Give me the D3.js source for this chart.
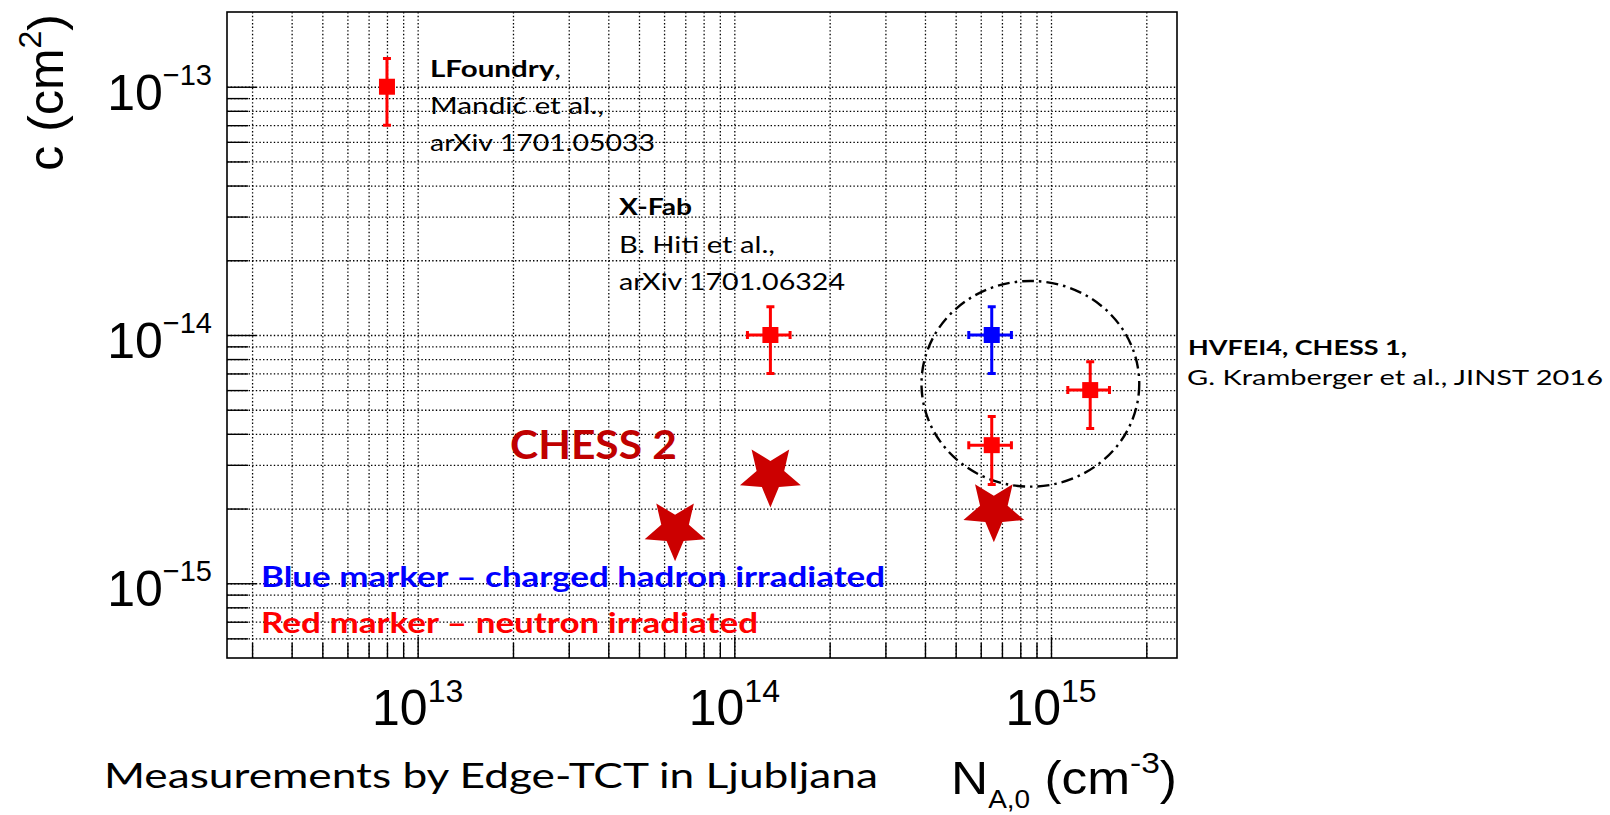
<!DOCTYPE html>
<html>
<head>
<meta charset="utf-8">
<script src="https://cdn.jsdelivr.net/npm/d3@7"></script>
<style>
  html, body { margin: 0; padding: 0; background: #ffffff; }
  svg { display: block; }
</style>
</head>
<body>
<svg id="chart" width="1610" height="815"></svg>
<script>
// ---------------------------------------------------------------
// Effective acceptor removal constant c versus initial acceptor
// concentration N_A,0, measured by Edge-TCT.
// ---------------------------------------------------------------

// Axis ranges and labelled decades
const xDomain = [2.5e12, 2.5e15];
const yDomain = [5e-16, 2e-13];
const xDecades = [13, 14, 15];
const yDecades = [-13, -14, -15];

// Square markers with asymmetric error bars
const pointNames = ["LFoundry", "X-Fab", "HVFEI4 (p)", "CHESS 1", "HVFEI4"];
const pointNA = [8e12, 1.3e14, 6.5e14, 1.33e15, 6.5e14];
const pointNALow = [8e12, 1.1e14, 5.5e14, 1.13e15, 5.5e14];
const pointNAHigh = [8e12, 1.5e14, 7.5e14, 1.53e15, 7.5e14];
const pointC = [1e-13, 1e-14, 1e-14, 6e-15, 3.6e-15];
const pointCLow = [7e-14, 7e-15, 7e-15, 4.2e-15, 2.5e-15];
const pointCHigh = [1.3e-13, 1.3e-14, 1.3e-14, 7.8e-15, 4.7e-15];
const pointIrradiation = ["neutron", "neutron", "hadron", "neutron", "neutron"];

// CHESS 2 samples (star markers)
const chess2NA = [6.5e13, 1.3e14, 6.6e14];
const chess2C = [1.65e-15, 2.72e-15, 1.97e-15];

// Dash-dotted ellipse grouping the HVFEI4 / CHESS 1 samples (data extent)
const groupNA = [3.9e14, 1.9e15];
const groupC = [2.45e-15, 1.65e-14];

const irradiationColor = { neutron: "#ff0000", hadron: "#0000ff" };
const starColor = "#cc0000";

const ROOT_FONT = "'Liberation Sans', Arial, Helvetica, sans-serif";
const NOTE_FONT = "Lato, 'Open Sans', 'Noto Sans', sans-serif";

const svg = d3.select("#chart");
const frame = { left: 227, right: 1177, top: 12, bottom: 658 };

const x = d3.scaleLog().domain(xDomain).range([frame.left, frame.right]);
const y = d3.scaleLog().domain(yDomain).range([frame.bottom, frame.top]);

// All 1..9 x 10^n values in a domain, flagged major for powers of ten
function logTickValues(domain) {
  const out = [];
  const lo = Math.floor(Math.log10(domain[0]));
  const hi = Math.ceil(Math.log10(domain[1]));
  for (let e = lo; e <= hi; e++) {
    for (let m = 1; m <= 9; m++) {
      const v = +(m + "e" + e);
      if (v > domain[0] * 1.0001 && v < domain[1] * 0.9999) out.push({ v, major: m === 1 });
    }
  }
  return out;
}
const xTicks = logTickValues(xDomain);
const yTicks = logTickValues(yDomain);

// ---- dotted grid at every tick ----
const gridStyle = g => g
  .call(s => s.select(".domain").remove())
  .call(s => s.selectAll(".tick line")
    .attr("stroke", "#000")
    .attr("stroke-width", 1.3)
    .attr("stroke-dasharray", "1.4,2.2"));

svg.append("g")
  .attr("transform", `translate(0,${frame.bottom})`)
  .call(d3.axisBottom(x).tickValues(xTicks.map(d => d.v))
    .tickSize(-(frame.bottom - frame.top)).tickFormat(""))
  .call(gridStyle);

svg.append("g")
  .attr("transform", `translate(${frame.left},0)`)
  .call(d3.axisLeft(y).tickValues(yTicks.map(d => d.v))
    .tickSize(-(frame.right - frame.left)).tickFormat(""))
  .call(gridStyle);

// ---- inward ticks on the bottom and left axes ----
const tickStyle = g => g
  .call(s => s.select(".domain").remove())
  .call(s => s.selectAll(".tick line").attr("stroke", "#000").attr("stroke-width", 1.4));

svg.append("g")
  .attr("transform", `translate(0,${frame.bottom})`)
  .call(d3.axisBottom(x).tickValues(xTicks.filter(d => !d.major).map(d => d.v))
    .tickSize(-15).tickFormat(""))
  .call(tickStyle);
svg.append("g")
  .attr("transform", `translate(0,${frame.bottom})`)
  .call(d3.axisBottom(x).tickValues(xTicks.filter(d => d.major).map(d => d.v))
    .tickSize(-21).tickFormat(""))
  .call(tickStyle);
svg.append("g")
  .attr("transform", `translate(${frame.left},0)`)
  .call(d3.axisLeft(y).tickValues(yTicks.filter(d => !d.major).map(d => d.v))
    .tickSize(-21).tickFormat(""))
  .call(tickStyle);
svg.append("g")
  .attr("transform", `translate(${frame.left},0)`)
  .call(d3.axisLeft(y).tickValues(yTicks.filter(d => d.major).map(d => d.v))
    .tickSize(-29).tickFormat(""))
  .call(tickStyle);

// ---- frame ----
svg.append("rect")
  .attr("x", frame.left).attr("y", frame.top)
  .attr("width", frame.right - frame.left).attr("height", frame.bottom - frame.top)
  .attr("fill", "none").attr("stroke", "#000").attr("stroke-width", 1.6);

// ---- decade labels 10^n ----
svg.append("g").selectAll("text").data(xDecades).join("text")
  .attr("x", d => x(+("1e" + d)))
  .attr("y", 725)
  .attr("text-anchor", "middle")
  .attr("font-family", ROOT_FONT)
  .attr("font-size", 50)
  .attr("fill", "#000")
  .call(t => {
    t.append("tspan").text("10");
    t.append("tspan").attr("dy", -23).attr("font-size", 32).text(d => d);
  });

svg.append("g").selectAll("text").data(yDecades).join("text")
  .attr("x", 212)
  .attr("y", d => y(+("1e" + d)) + 23)
  .attr("text-anchor", "end")
  .attr("font-family", ROOT_FONT)
  .attr("font-size", 50)
  .attr("fill", "#000")
  .call(t => {
    t.append("tspan").text("10");
    t.append("tspan").attr("dy", -25).attr("font-size", 29).text(d => "\u2212" + Math.abs(d));
  });

// ---- axis titles ----
const xTitle = svg.append("text")
  .attr("x", frame.right).attr("y", 794)
  .attr("text-anchor", "end")
  .attr("font-family", ROOT_FONT)
  .attr("font-size", 46)
  .attr("fill", "#000")
  .attr("textLength", 226)
  .attr("lengthAdjust", "spacingAndGlyphs");
xTitle.append("tspan").text("N");
xTitle.append("tspan").attr("font-size", 25).attr("dy", 14).text("A,0");
xTitle.append("tspan").attr("dy", -14).text("\u00a0(cm");
xTitle.append("tspan").attr("font-size", 30).attr("dy", -21).text("-3");
xTitle.append("tspan").attr("dy", 21).text(")");

const yTitle = svg.append("text")
  .attr("transform", `translate(63,${frame.top + 2}) rotate(-90)`)
  .attr("text-anchor", "end")
  .attr("font-family", ROOT_FONT)
  .attr("font-size", 50)
  .attr("fill", "#000");
yTitle.append("tspan").text("c (cm");
yTitle.append("tspan").attr("font-size", 32).attr("dy", -22).text("2");
yTitle.append("tspan").attr("dy", 22).text(")");

// ---- grouping ellipse ----
{
  const x0 = x(groupNA[0]), x1 = x(groupNA[1]);
  const y0 = y(groupC[1]), y1 = y(groupC[0]);
  svg.append("ellipse")
    .attr("cx", (x0 + x1) / 2).attr("cy", (y0 + y1) / 2)
    .attr("rx", (x1 - x0) / 2).attr("ry", (y1 - y0) / 2)
    .attr("fill", "none").attr("stroke", "#000")
    .attr("stroke-width", 2.4)
    .attr("stroke-dasharray", "12,5,2.5,5");
}

// ---- error bars and square markers ----
const points = pointNA.map((v, i) => ({
  name: pointNames[i],
  x: v, xl: pointNALow[i], xh: pointNAHigh[i],
  y: pointC[i], yl: pointCLow[i], yh: pointCHigh[i],
  color: irradiationColor[pointIrradiation[i]]
}));

const cap = 4;
const pg = svg.append("g").selectAll("g").data(points).join("g")
  .attr("stroke", d => d.color).attr("fill", d => d.color);

pg.append("line")
  .attr("x1", d => x(d.x)).attr("x2", d => x(d.x))
  .attr("y1", d => y(d.yh)).attr("y2", d => y(d.yl))
  .attr("stroke-width", 3);
pg.append("path")
  .attr("d", d => `M${x(d.x) - cap},${y(d.yh)}H${x(d.x) + cap}M${x(d.x) - cap},${y(d.yl)}H${x(d.x) + cap}`)
  .attr("stroke-width", 3);
pg.filter(d => d.xh > d.xl).append("line")
  .attr("x1", d => x(d.xl)).attr("x2", d => x(d.xh))
  .attr("y1", d => y(d.y)).attr("y2", d => y(d.y))
  .attr("stroke-width", 3);
pg.filter(d => d.xh > d.xl).append("path")
  .attr("d", d => `M${x(d.xl)},${y(d.y) - cap}V${y(d.y) + cap}M${x(d.xh)},${y(d.y) - cap}V${y(d.y) + cap}`)
  .attr("stroke-width", 3);
pg.append("rect")
  .attr("x", d => x(d.x) - 8).attr("y", d => y(d.y) - 8)
  .attr("width", 16).attr("height", 16)
  .attr("stroke", "none");

// ---- CHESS 2 stars (five-pointed, tip down) ----
function starPath(R, r) {
  const pts = d3.range(10).map(i => {
    const a = Math.PI / 2 + i * Math.PI / 5;
    const rad = i % 2 === 0 ? R : r;
    return [rad * Math.cos(a), rad * Math.sin(a)];
  });
  return "M" + pts.map(p => p[0].toFixed(2) + "," + p[1].toFixed(2)).join("L") + "Z";
}
const star = starPath(32, 14.5);
svg.append("g").selectAll("path").data(chess2NA.map((v, i) => ({ x: v, y: chess2C[i] })))
  .join("path")
  .attr("transform", d => `translate(${x(d.x)},${y(d.y)})`)
  .attr("d", star)
  .attr("fill", starColor);

// ---- annotations ----
function note(xp, yp, parts, size, width, color) {
  const t = svg.append("text")
    .attr("x", xp).attr("y", yp)
    .attr("font-family", NOTE_FONT)
    .attr("font-size", size)
    .attr("fill", color || "#000")
    .attr("textLength", width)
    .attr("lengthAdjust", "spacingAndGlyphs");
  parts.forEach(p => t.append("tspan").attr("font-weight", p.bold ? 700 : 400).text(p.text));
  return t;
}

note(430, 77, [{ text: "LFoundry", bold: true }, { text: "," }], 22.5, 131);
note(430, 114, [{ text: "Mandi\u0107 et al.," }], 22.5, 174);
note(430, 151, [{ text: "arXiv 1701.05033" }], 22.5, 225);

note(619, 215, [{ text: "X-Fab", bold: true }], 22.5, 73);
note(619, 253, [{ text: "B. Hiti et al.," }], 22.5, 156);
note(619, 290, [{ text: "arXiv 1701.06324" }], 22.5, 226);

note(1188, 355, [{ text: "HVFEI4, CHESS 1,", bold: true }], 21, 219);
note(1187, 385, [{ text: "G. Kramberger et al., JINST 2016" }], 21, 416);

note(510, 459, [{ text: "CHESS 2", bold: true }], 41, 167, "#c00000");

note(261, 587, [{ text: "Blue marker \u2013 charged hadron irradiated", bold: true }], 28, 624, "#0000ff");
note(261, 633, [{ text: "Red marker \u2013 neutron irradiated", bold: true }], 28, 497, "#ff0000");

note(104, 788, [{ text: "Measurements by Edge-TCT in Ljubljana" }], 35, 774);
</script>
</body>
</html>
